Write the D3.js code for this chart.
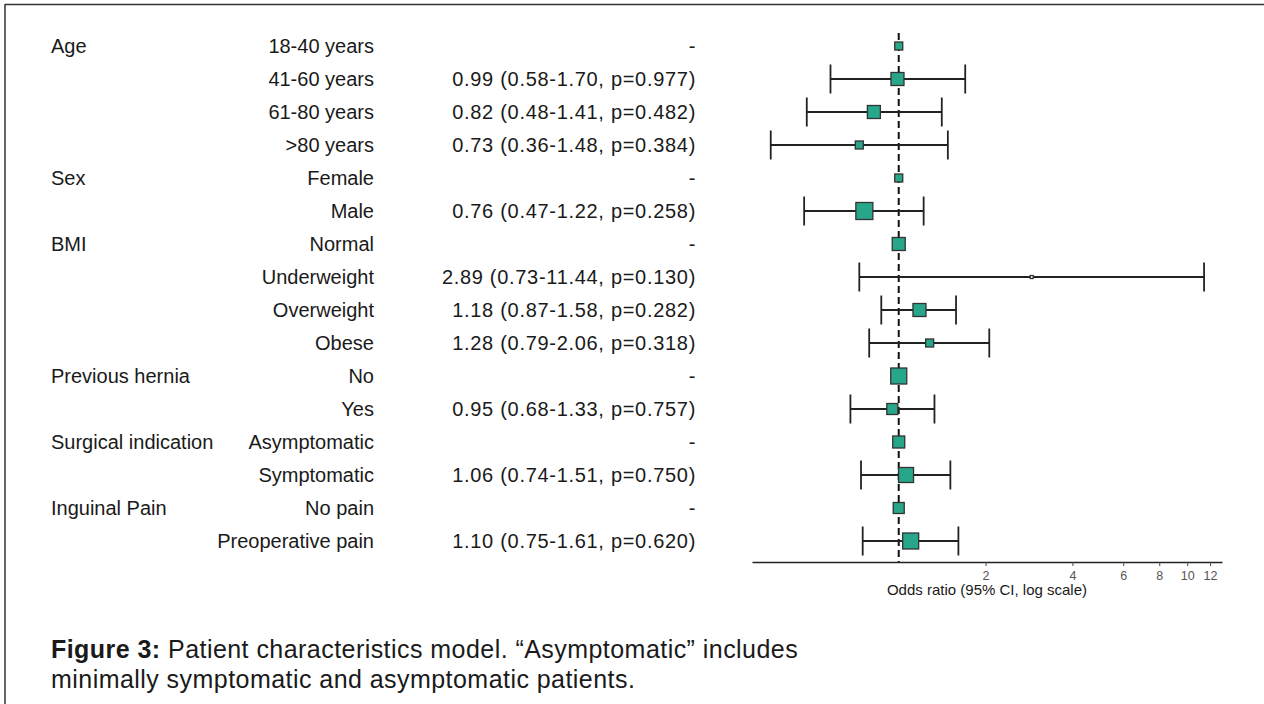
<!DOCTYPE html>
<html>
<head>
<meta charset="utf-8">
<script src="https://cdnjs.cloudflare.com/ajax/libs/d3/7.8.5/d3.min.js"></script>
<style>
  html, body { margin: 0; padding: 0; background: #fff; }
  svg { display: block; }
  text { font-family: "Liberation Sans", Arial, Helvetica, sans-serif; fill: #1a1a1a; }
</style>
</head>
<body>
<div id="chart"></div>
<script>
// Table columns
const groups = ["Age", "", "", "", "Sex", "", "BMI", "", "", "", "Previous hernia", "", "Surgical indication", "", "Inguinal Pain", ""];
const levels = ["18-40 years", "41-60 years", "61-80 years", ">80 years", "Female", "Male", "Normal", "Underweight", "Overweight", "Obese", "No", "Yes", "Asymptomatic", "Symptomatic", "No pain", "Preoperative pain"];
const orLabels = ["-", "0.99 (0.58-1.70, p=0.977)", "0.82 (0.48-1.41, p=0.482)", "0.73 (0.36-1.48, p=0.384)", "-", "0.76 (0.47-1.22, p=0.258)", "-", "2.89 (0.73-11.44, p=0.130)", "1.18 (0.87-1.58, p=0.282)", "1.28 (0.79-2.06, p=0.318)", "-", "0.95 (0.68-1.33, p=0.757)", "-", "1.06 (0.74-1.51, p=0.750)", "-", "1.10 (0.75-1.61, p=0.620)"];

// Estimates (reference levels sit at 1, no interval)
const oddsRatio = [1, 0.99, 0.82, 0.73, 1, 0.76, 1, 2.89, 1.18, 1.28, 1, 0.95, 1, 1.06, 1, 1.10];
const lower = [null, 0.58, 0.48, 0.36, null, 0.47, null, 0.73, 0.87, 0.79, null, 0.68, null, 0.74, null, 0.75];
const upper = [null, 1.70, 1.41, 1.48, null, 1.22, null, 11.44, 1.58, 2.06, null, 1.33, null, 1.51, null, 1.61];
// relative box weights
const weight = [8, 13, 13, 8, 8, 17, 13, 3, 13, 8, 16, 11, 12, 15, 11, 16];

const tickValues = [2, 4, 6, 8, 10, 12];

const W = 1264, H = 704;
const svg = d3.select("#chart").append("svg").attr("width", W).attr("height", H);

// frame (top and left edges only)
svg.append("line").attr("x1", 5).attr("x2", W).attr("y1", 4.5).attr("y2", 4.5)
  .attr("stroke", "#333").attr("stroke-width", 1.5);
svg.append("line").attr("x1", 5).attr("x2", 5).attr("y1", 4).attr("y2", H)
  .attr("stroke", "#333").attr("stroke-width", 1.5);

const rows = d3.range(levels.length);
const y = d3.scalePoint().domain(rows).range([46, 541]);
const x = d3.scaleLog().domain([0.31, 13.2]).range([752, 1222]);

const table = svg.append("g").style("font-size", "20px");

table.selectAll(".grp").data(rows).enter().append("text")
  .attr("x", 51).attr("y", d => y(d)).attr("dy", "0.36em")
  .text(d => groups[d]);

table.selectAll(".lvl").data(rows).enter().append("text")
  .attr("x", 374).attr("y", d => y(d)).attr("dy", "0.36em")
  .attr("text-anchor", "end")
  .text(d => levels[d]);

table.selectAll(".or").data(rows).enter().append("text")
  .attr("x", 696).attr("y", d => y(d)).attr("dy", "0.36em")
  .attr("text-anchor", "end").style("letter-spacing", "0.7px")
  .text(d => orLabels[d]);

// axis
const axisY = 562;
const axis = d3.axisBottom(x).tickValues(tickValues).tickFormat(d3.format("d")).tickSize(4).tickSizeOuter(0);
const ax = svg.append("g").attr("transform", `translate(0,${axisY})`).call(axis);
ax.select(".domain").attr("stroke", "#222").attr("stroke-width", 1.5);
ax.selectAll(".tick line").attr("stroke", "#444");
ax.selectAll(".tick text").style("font-size", "12.5px").style("fill", "#555")
  .style("font-family", "'Liberation Sans', Arial, sans-serif").attr("dy", "0.85em");

svg.append("text")
  .attr("x", 987).attr("y", axisY + 33)
  .attr("text-anchor", "middle").style("font-size", "15px")
  .text("Odds ratio (95% CI, log scale)");

// reference line at OR = 1
svg.append("line")
  .attr("x1", x(1)).attr("x2", x(1)).attr("y1", 33).attr("y2", axisY)
  .attr("stroke", "#111").attr("stroke-width", 2).attr("stroke-dasharray", "7,4");

// confidence intervals
const ciRows = rows.filter(d => lower[d] != null);
const ci = svg.append("g").attr("stroke", "#222").attr("stroke-width", 1.8);
ci.selectAll(".ci").data(ciRows).enter().append("line")
  .attr("x1", d => x(lower[d])).attr("x2", d => x(upper[d]))
  .attr("y1", d => y(d)).attr("y2", d => y(d));
ci.selectAll(".wl").data(ciRows).enter().append("line")
  .attr("x1", d => x(lower[d])).attr("x2", d => x(lower[d]))
  .attr("y1", d => y(d) - 14.5).attr("y2", d => y(d) + 14.5);
ci.selectAll(".wu").data(ciRows).enter().append("line")
  .attr("x1", d => x(upper[d])).attr("x2", d => x(upper[d]))
  .attr("y1", d => y(d) - 14.5).attr("y2", d => y(d) + 14.5);

// boxes
svg.selectAll(".box").data(rows).enter().append("rect")
  .attr("x", d => x(oddsRatio[d]) - weight[d] / 2)
  .attr("y", d => y(d) - weight[d] / 2)
  .attr("width", d => weight[d]).attr("height", d => weight[d])
  .attr("fill", d => weight[d] < 5 ? "#fff" : "#27a68a")
  .attr("stroke", "#333").attr("stroke-width", 1.3);

// caption
const cap = svg.append("g").style("font-size", "25px").style("letter-spacing", "0.45px");
const line1 = cap.append("text").attr("x", 51).attr("y", 658);
line1.append("tspan").style("font-weight", "bold").text("Figure 3:");
line1.append("tspan").text(" Patient characteristics model. \u201cAsymptomatic\u201d includes");
cap.append("text").attr("x", 51).attr("y", 688)
  .text("minimally symptomatic and asymptomatic patients.");
</script>
</body>
</html>
